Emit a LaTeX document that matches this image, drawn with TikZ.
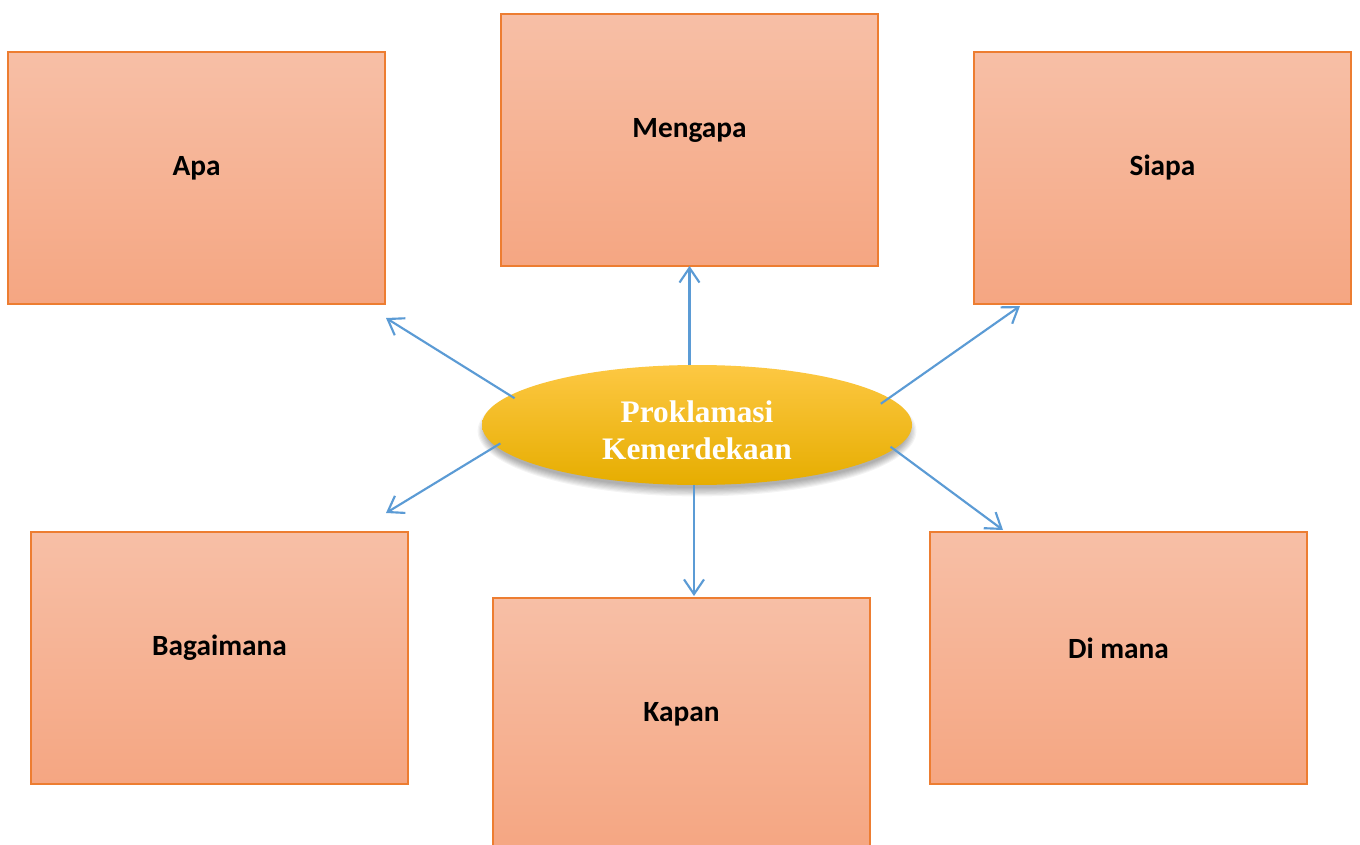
\documentclass[tikz,border=0pt]{standalone}
\usepackage{fontspec}
\setmainfont{Carlito}
\newfontfamily\ellfont{Liberation Serif}
\usetikzlibrary{arrows.meta,calc,shapes.geometric}
\definecolor{boxtop}{HTML}{F7BFA6}
\definecolor{boxbot}{HTML}{F5A682}
\definecolor{boxline}{HTML}{ED7D31}
\definecolor{elltop}{HTML}{FDC843}
\definecolor{ellmid}{HTML}{FFC000}
\definecolor{ellbot}{HTML}{E6AD00}
\definecolor{arrblue}{HTML}{5B9BD5}
\tikzset{
  qbox/.style={rectangle, draw=boxline, line width=1pt, top color=boxtop, bottom color=boxbot,
    minimum width=282.75pt, minimum height=189pt, inner sep=0pt, outer sep=0pt},
  qlabel/.style={font=\fontsize{22}{26}\selectfont\bfseries, text=black, inner sep=0pt},
  hub/.style={ellipse, minimum width=322.5pt, minimum height=90pt, inner sep=0pt, outer sep=0pt,
    top color=elltop, middle color=ellmid, bottom color=ellbot},
  hubtext/.style={align=center, text=white, inner sep=0pt, font=\ellfont\fontsize{23.5}{28}\selectfont\bfseries},
  conn/.style={draw=arrblue, line width=1.6pt, -{Straight Barb[length=11pt,width=15pt]}}
}
\begin{document}
\begin{tikzpicture}[x=0.75pt,y=-0.75pt]
\clip (0,0) rectangle (1360,845);
\fill[white] (0,0) rectangle (1360,845);
% boxes
\node[qbox] (apa) at (196.5,178) {};
\node[qbox] (men) at (689.5,140) {};
\node[qbox] (sia) at (1162.5,178) {};
\node[qbox] (bag) at (219.5,658) {};
\node[qbox] (kap) at (681.5,724) {};
\node[qbox] (dim) at (1118.5,658) {};
% labels
\node[qlabel] (lapa) at ($(apa.center)+(0,-10)$) {Apa};
\node[qlabel] (lmen) at ($(men.center)+(0,-10)$) {Mengapa};
\node[qlabel] (lsia) at ($(sia.center)+(0,-10)$) {Siapa};
\node[qlabel] (lbag) at ($(bag.center)+(0,-10)$) {Bagaimana};
\node[qlabel] (lkap) at ($(kap.center)+(0,-10)$) {Kapan};
\node[qlabel] (ldim) at ($(dim.center)+(0,-10)$) {Di mana};
% soft shadow of the hub
\foreach \i in {0,...,7}{
  \fill[black, opacity=0.045] (697,431) ellipse [x radius={211+\i*1.2}, y radius={57+\i*1.2}];
}
% hub
\node[hub] (pk) at (697,425) {};
\node[hubtext] (pkt) at ($(pk.center)+(0,5)$) {Proklamasi\\Kemerdekaan};
% arrow targets
\coordinate (tapa) at ($(apa.south east)+(1,14)$);
\coordinate (tsia) at ($(sia.south west)+(46,2)$);
\coordinate (tbag) at ($(bag.north east)+(-22,-19)$);
\coordinate (tkap) at ($(kap.north)+(12.5,-2)$);
\coordinate (tdim) at ($(dim.north west)+(73,-2)$);
% connectors
\draw[conn, shorten <=-4pt] (pk.171) -- (tapa);
\draw[conn] (men.south |- pk.north) -- (men.south);
\draw[conn, shorten <=-7.5pt] (pk.8) -- (tsia);
\draw[conn, shorten <=-4pt] (pk.186) -- (tbag);
\draw[conn] (tkap |- pk.south) -- (tkap);
\draw[conn, shorten <=-3pt] (pk.353) -- (tdim);
\end{tikzpicture}
\end{document}
